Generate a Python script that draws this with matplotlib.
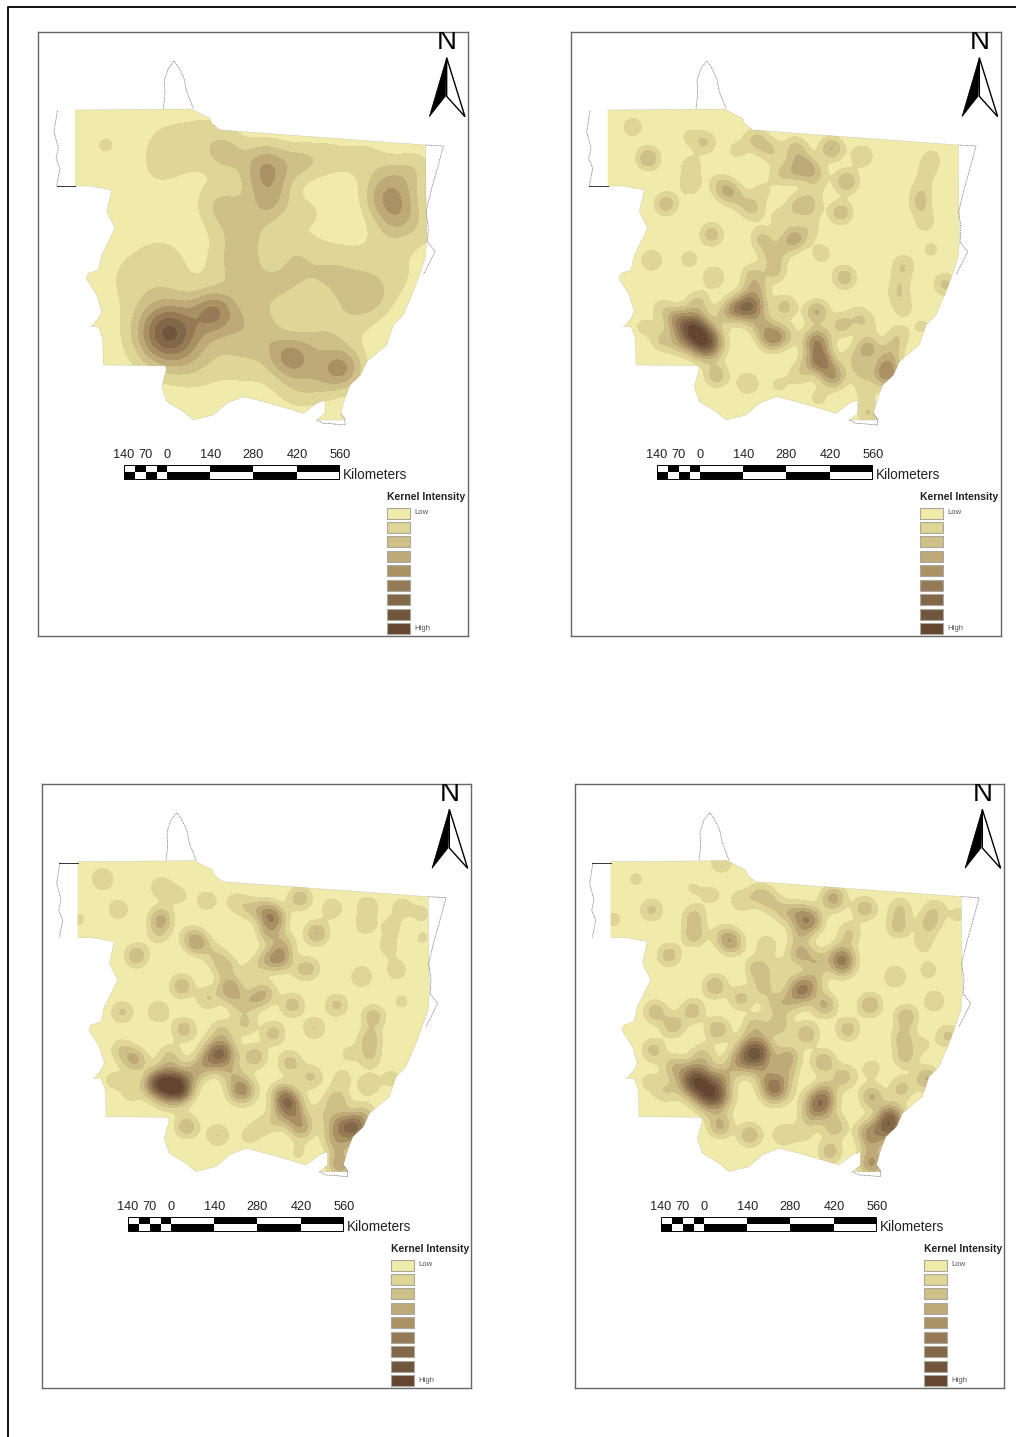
import matplotlib
matplotlib.use('Agg')
from matplotlib import pyplot as plt
from matplotlib.patches import Polygon, Rectangle
import numpy as np

plt.rcParams['font.family'] = ['Liberation Sans', 'DejaVu Sans']

W, H = 1016, 1437
# panel frames in image pixels: left, top, right, bottom
frames = [(38, 32, 468, 636), (571, 32, 1001, 636), (42, 784, 471, 1388), (575, 784, 1004, 1388)]
# origin of the map units of each panel (map units are 3 per pixel)
origins = [(30, 25), (565, 25), (35, 780), (570, 780)]
# shift of the state outline against the first panel
shifts = [(0, 0), (-7, 0), (-7, -10), (-13, -10)]

state_x = [135, 485, 510, 540, 545, 570, 1187, 1188, 1190, 1186, 1165, 1150, 1120, 1090, 1070, 1010, 992, 960, 945, 932,
           945, 860, 885, 885, 860, 820, 770, 700, 640, 590, 550, 490, 460, 410, 395, 410, 405, 220, 218, 205, 183, 205,
           215, 200, 168, 175, 205, 215, 235, 255, 230, 245, 180, 135]
state_y = [255, 252, 265, 280, 295, 315, 360, 520, 650, 700, 760, 800, 870, 900, 960, 1010, 1050, 1080, 1120, 1165,
           1185, 1185, 1165, 1125, 1135, 1165, 1150, 1130, 1115, 1135, 1170, 1185, 1160, 1130, 1085, 1030, 1022, 1020, 940, 905, 905, 880,
           860, 810, 760, 745, 735, 690, 650, 610, 560, 495, 483, 483]

border_w_x = [82, 72, 85, 78, 90, 80]
border_w_y = [258, 320, 370, 400, 430, 483]
border_n_x = [400, 405, 403, 415, 432, 445, 462, 470, 480, 490]
border_n_y = [250, 210, 165, 130, 108, 125, 160, 200, 225, 250]
border_e_x = [1187, 1240, 1225, 1205, 1188, 1195, 1192, 1215, 1195, 1180]
border_e_y = [360, 363, 420, 490, 560, 610, 650, 680, 720, 750]
border_s_x = [860, 880, 900, 945, 945, 932]
border_s_y = [1185, 1195, 1196, 1200, 1182, 1165]
# the short solid bit of the west border differs: bottom on the upper maps, top on the lower ones
west_line_y = [483, 483, 258, 258]

# hot spots: position, height, kernel width
p1_x = [415, 430, 550, 640, 780, 940, 860, 700, 600, 880, 820, 710, 720, 590, 815, 1095, 1100, 1040, 1165, 1190,
        570, 640, 620, 680, 585, 625, 400, 380, 500, 560, 890, 1000, 1020, 950, 850, 760, 940, 1130, 1060, 300, 400, 500, 650, 780, 225, 840, 790]
p1_y = [925, 920, 860, 880, 1000, 1030, 960, 940, 960, 1060, 1080, 430, 530, 390, 410, 480, 570, 520, 420, 620,
        540, 620, 720, 800, 577, 622, 340, 450, 370, 330, 400, 400, 810, 880, 740, 780, 740, 760, 680, 760, 700, 1030, 1060, 1110, 360, 560, 680]
p1_a = [5.2, 2.0, 3.6, 1.0, 3.2, 3.4, 1.6, 1.8, 0.8, 1.2, 1.0, 3.8, 2.4, 1.4, 1.4, 2.8, 2.8, 1.1, 0.9, 0.8,
        1.8, 1.8, 1.7, 1.0, 0.2, 0.2, 0.75, 0.75, 0.8, 0.8, 1.2, 1.1, 1.9, 1.2, 1.4, 0.9, 1.0, 0.7, 0.9, 0.9, 1.0, 0.7, 0.6, 0.5, 1.1, 0.9, 0.8]
p1_s = [62, 100, 45, 60, 45, 45, 55, 60, 60, 50, 50, 55, 50, 40, 40, 55, 50, 40, 40, 50,
        50, 60, 60, 60, 10, 14, 70, 70, 70, 60, 50, 50, 50, 65, 80, 50, 60, 60, 60, 70, 70, 60, 60, 60, 30, 40, 45]

p2_x = [203, 250, 378, 375, 370, 420, 515, 303, 440, 260, 372, 447, 838, 770, 892, 1098, 1140, 800, 845, 828, 1073, 640, 455, 548,
        1100, 1085, 1070, 1065, 1080, 1015, 1005, 1000, 1015, 570, 600, 630, 690, 700, 725, 680, 640, 760, 745, 490, 460, 530, 565, 590,
        700, 650, 740, 690, 655, 735, 590, 610, 630, 630, 562, 575, 555, 510, 480, 660, 620, 660, 590, 380, 425, 400, 330, 290, 290, 235, 340,
        755, 755, 765, 805, 780, 730, 700, 760, 830, 860, 880, 905, 908, 890, 900, 910, 965, 970, 1000, 985]
p2_y = [306, 400, 425, 480, 333, 352, 376, 537, 628, 706, 702, 757, 757, 686, 393, 674, 778, 370, 470, 563, 905, 1080, 1052, 1075,
        400, 440, 490, 535, 590, 720, 770, 810, 850, 340, 365, 385, 360, 390, 430, 440, 450, 450, 500, 500, 475, 530, 555, 500,
        540, 580, 550, 640, 665, 610, 640, 680, 740, 700, 750, 790, 845, 850, 870, 845, 938, 930, 900, 910, 955, 830, 880, 850, 945, 905, 960,
        860, 950, 1000, 1055, 1020, 1020, 1050, 1120, 900, 1000, 870, 900, 970, 1040, 1100, 1165, 1045, 1000, 930, 970]
p2_a = [1.6, 2.9, 1.6, 1.6, 1.05, 2.0, 1.25, 2.6, 2.5, 1.9, 1.4, 1.9, 2.6, 1.45, 1.9, 1.2, 2.2, 3.0, 2.9, 2.6, 1.15, 1.15, 2.5, 1.9,
        1.3, 1.1, 1.3, 1.9, 1.5, 1.8, 1.3, 1.3, 1.2, 1.8, 1.3, 1.2, 1.3, 1.6, 2.8, 1.8, 1.3, 1.3, 1.2, 2.8, 1.2, 1.3, 1.8, 1.2,
        2.0, 1.6, 1.4, 3.0, 1.3, 1.3, 2.0, 1.0, 1.9, 1.0, 1.9, 1.8, 5.5, 2.5, 1.5, 2.3, 4.0, 1.7, 1.8, 7.0, 6.5, 1.8, 2.2, 1.3, 1.8, 1.2, 1.2,
        3.0, 4.5, 3.0, 3.5, 2.0, 1.5, 1.3, 1.2, 2.2, 1.3, 1.3, 1.3, 3.2, 1.8, 1.3, 2.0, 4.5, 1.5, 1.5, 1.3]

p3_x = [203, 378, 430, 250, 378, 370, 130, 305, 440, 518, 262, 370, 447, 515, 490, 465, 540, 570, 585, 610, 630, 655, 690,
        600, 640, 715, 685, 700, 735, 695, 745, 650, 825, 800, 795, 845, 892, 998, 990, 1100, 1070, 1060, 1085, 1160, 1163, 980, 905, 772, 838, 1100,
        1015, 1005, 1005, 938, 715, 660, 765, 828, 920, 555, 560, 510, 475, 405, 440, 405, 360, 300, 260, 290, 235, 620, 590, 760, 740, 800, 780, 725, 680, 640,
        860, 905, 905, 890, 915, 910, 955, 990, 1000, 1070, 455, 548, 790]
p3_y = [297, 322, 345, 388, 415, 460, 418, 527, 618, 655, 697, 695, 748, 362, 490, 470, 525, 560, 625, 670, 730, 660, 640,
        365, 385, 415, 390, 460, 535, 540, 490, 570, 565, 570, 355, 460, 385, 378, 435, 380, 440, 500, 570, 400, 475, 590, 675, 675, 745, 665,
        710, 778, 830, 820, 760, 830, 848, 890, 895, 820, 750, 850, 880, 915, 930, 825, 910, 840, 810, 935, 900, 930, 880, 970, 940, 1045, 1010, 1020, 1040, 1068,
        1000, 960, 1030, 1070, 1155, 1100, 1045, 1000, 915, 895, 1040, 1065, 1120]
p3_a = [2.0, 1.8, 1.3, 1.7, 3.0, 1.6, 1.2, 2.8, 2.7, 1.9, 2.1, 1.9, 2.5, 1.6, 3.0, 1.5, 1.5, 2.2, 3.5, 1.5, 2.0, 2.0, 2.4,
        1.3, 1.4, 4.0, 2.0, 2.0, 3.5, 2.0, 2.0, 1.2, 1.6, 1.2, 2.6, 3.0, 1.7, 1.7, 1.5, 1.4, 1.3, 1.4, 1.6, 1.2, 1.1, 1.9, 2.2, 2.5, 2.0, 1.2,
        2.5, 2.4, 1.8, 1.1, 2.4, 2.6, 2.4, 2.1, 1.3, 6.0, 1.6, 2.2, 2.0, 8.0, 3.0, 1.7, 3.0, 3.0, 1.8, 1.5, 1.3, 4.5, 1.6, 5.0, 2.0, 3.0, 2.0, 1.4, 1.2, 1.2,
        1.3, 2.5, 2.0, 1.5, 3.5, 1.8, 6.0, 1.4, 1.7, 1.3, 2.7, 2.0, 1.1]

p4_x = [198, 455, 365, 425, 245, 372, 372, 297, 485, 460, 435, 513, 255, 310, 368, 443, 515, 570, 600, 640, 720, 680, 690, 690, 740, 630, 590, 562, 580, 610, 627, 695, 650, 735,
        790, 885, 838, 815, 820, 990, 985, 1095, 1078, 1060, 1075, 1168, 130, 975, 900, 765, 833, 1093, 1008, 998, 1005, 1060, 1135, 1070, 995, 710, 655, 760, 822, 905, 905, 890,
        555, 555, 500, 460, 375, 430, 400, 310, 250, 285, 235, 615, 650, 590, 750, 770, 795, 720, 640, 700, 780, 905, 905, 955, 965, 450, 540]
p4_y = [297, 245, 322, 345, 390, 410, 465, 525, 488, 465, 618, 655, 695, 737, 692, 748, 362, 340, 365, 395, 420, 400, 460, 520, 545, 570, 495, 565, 620, 670, 735, 630, 670, 600,
        355, 385, 460, 535, 565, 385, 440, 385, 430, 490, 570, 405, 418, 590, 675, 675, 748, 663, 710, 775, 830, 795, 768, 895, 925, 762, 830, 845, 890, 865, 950, 1055,
        820, 735, 850, 885, 900, 945, 825, 860, 810, 935, 905, 928, 880, 890, 970, 930, 1040, 1010, 1065, 1060, 1115, 1150, 1090, 1040, 1000, 1038, 1065]
p4_a = [1.2, 2.0, 1.02, 1.3, 2.2, 2.2, 2.5, 2.5, 3.2, 1.6, 2.9, 2.3, 2.5, 2.5, 2.5, 2.8, 1.8, 1.8, 1.6, 1.6, 4.0, 2.2, 2.0, 3.0, 2.3, 1.6, 1.6, 2.5, 2.0, 1.5, 2.5, 5.0, 1.8, 1.5,
        3.4, 2.6, 2.0, 4.5, 1.5, 1.9, 2.3, 1.5, 2.2, 1.4, 1.4, 1.25, 1.3, 2.0, 2.9, 3.0, 2.5, 1.8, 2.7, 2.2, 2.2, 1.05, 2.2, 3.0, 2.3, 2.8, 3.0, 2.8, 2.4, 1.4, 3.0, 2.5,
        7.5, 2.0, 2.0, 1.8, 7.0, 7.0, 1.9, 2.2, 2.3, 1.7, 1.2, 5.0, 1.8, 1.5, 5.5, 1.5, 2.5, 1.5, 1.9, 1.2, 2.5, 4.0, 2.0, 6.0, 2.5, 3.0, 2.8]
kernel_width = 26.0

class_colors = ['#F0EBAA', '#DED596', '#CFC087', '#BEAA78', '#AA9164', '#967A55', '#826748', '#71553C', '#644630']
class_levels = [1, 2, 3, 4, 5, 6, 7, 8]

scale_km = ['140', '70', '0', '140', '280', '420', '560']
scale_label_x = [124, 145, 167, 211, 253, 297, 340]
scale_edges = [124, 135, 146, 156.7, 166.7, 210, 253, 296.7, 339.3]
legend_names = {0: 'Low', 8: 'High'}

arrow_left_x = [1250, 1198, 1246, 1250]
arrow_left_y = [98, 275, 214, 98]
arrow_right_x = [1250, 1305, 1250, 1250]
arrow_right_y = [98, 275, 214, 98]


def surface(gx, gy, xs, ys, amps, widths):
    z = np.zeros_like(gx, dtype=float)
    for x, y, a, s in zip(xs, ys, amps, widths):
        z += a * np.exp(-((gx - x) ** 2 + (gy - y) ** 2) / (2.0 * s * s))
    return z


def wide(amps):
    # tall spots on the maps are broader than the small ones
    return [kernel_width + 2.5 * max(a - 3, 0) for a in amps]


fig = plt.figure(figsize=(W / 100, H / 100), dpi=100, facecolor='white')

page = fig.add_axes((0, 0, 1, 1))
page.set_xlim(0, W)
page.set_ylim(H, 0)
page.axis('off')
page.plot([8, 8, W], [H, 7, 7], color='#111111', lw=1.4)

spots = [(p1_x, p1_y, p1_a, p1_s),
         (p2_x, p2_y, p2_a, wide(p2_a)),
         (p3_x, p3_y, p3_a, wide(p3_a)),
         (p4_x, p4_y, p4_a, wide(p4_a))]

for (l, t, r, b), (ox, oy), (dx, dy), hot, wy in zip(frames, origins, shifts, spots, west_line_y):
    ax = fig.add_axes((l / W, 1 - b / H, (r - l) / W, (b - t) / H))
    ax.set_xlim((l - ox) * 3, (r - ox) * 3)
    ax.set_ylim((b - oy) * 3, (t - oy) * 3)
    ax.set_xticks([])
    ax.set_yticks([])
    for sp in ax.spines.values():
        sp.set_color('#666666')
        sp.set_linewidth(1.0)

    outline = Polygon(np.column_stack([np.array(state_x) + dx, np.array(state_y) + dy]),
                      closed=True, facecolor=class_colors[0], edgecolor='none')
    ax.add_patch(outline)

    gx, gy = np.meshgrid(np.arange(60, 1320, 2.0), np.arange(90, 1220, 2.0))
    z = surface(gx, gy, *hot)
    # each class is laid over the one below, so no seams show between them
    for lv, c in zip(class_levels, class_colors[1:]):
        if z.max() > lv:
            cs = ax.contourf(gx, gy, z, levels=[lv, 1000], colors=[c])
            cs.set_clip_path(outline)

    for bx, by in [(border_w_x, border_w_y), (border_n_x, border_n_y), (border_e_x, border_e_y), (border_s_x, border_s_y)]:
        ax.plot(np.array(bx) + dx, np.array(by) + dy, color='#666666', lw=0.5, ls=(0, (1.5, 1)))
    ax.plot(np.array(state_x) + dx, np.array(state_y) + dy, color='#999999', lw=0.3, ls=(0, (2, 2)))
    ax.plot([80 + dx, 135 + dx], [wy + dy, wy + dy], color='#333333', lw=0.7)

    # north arrow
    ax.text(1250 + dx, 51 + dy, 'N', fontsize=20, ha='center', va='center', color='black', clip_on=True)
    ax.add_patch(Polygon(np.column_stack([np.array(arrow_right_x) + dx, np.array(arrow_right_y) + dy]),
                         closed=True, facecolor='white', edgecolor='black', lw=1.0))
    ax.add_patch(Polygon(np.column_stack([np.array(arrow_left_x) + dx, np.array(arrow_left_y) + dy]),
                         closed=True, facecolor='black', edgecolor='black', lw=0.5))

    # scale bar, on the page axes in pixels of this panel
    off_x = l - frames[0][0]
    off_y = t - frames[0][1]
    for i in range(len(scale_edges) - 1):
        x0, x1 = scale_edges[i] + off_x, scale_edges[i + 1] + off_x
        upper, lower = ('white', 'black') if i % 2 == 0 else ('black', 'white')
        page.add_patch(Rectangle((x0, 464.5 + off_y), x1 - x0, 7, facecolor=upper, edgecolor='none', zorder=5))
        page.add_patch(Rectangle((x0, 471.5 + off_y), x1 - x0, 7, facecolor=lower, edgecolor='none', zorder=5))
    page.add_patch(Rectangle((scale_edges[0] + off_x, 464.5 + off_y), scale_edges[-1] - scale_edges[0], 14,
                             facecolor='none', edgecolor='black', lw=0.7, zorder=6))
    for lab, lx in zip(scale_km, scale_label_x):
        page.text(lx + off_x, 454.5 + off_y, lab, fontsize=9.2, ha='center', va='center', color='#222222', zorder=6)
    page.text(343 + off_x, 475 + off_y, 'Kilometers', fontsize=9.8, ha='left', va='center', color='#222222', zorder=6)

    # class legend
    page.text(387 + off_x, 497.5 + off_y, 'Kernel Intensity', fontsize=7.5, fontweight='bold', ha='left', va='center', color='#222222', zorder=6)
    for i, c in enumerate(class_colors):
        y0 = 507.5 + off_y + i * 14.45
        page.add_patch(Rectangle((387 + off_x, y0), 23, 11, facecolor=c, edgecolor='#A8A8A0', lw=0.8, zorder=5))
        if i in legend_names:
            page.text(414 + off_x, y0 + 5.5, legend_names[i], fontsize=5.6, ha='left', va='center', color='#555555', zorder=6)

page.set_zorder(3)
page.patch.set_alpha(0)
fig.savefig('out.png', dpi=100)
